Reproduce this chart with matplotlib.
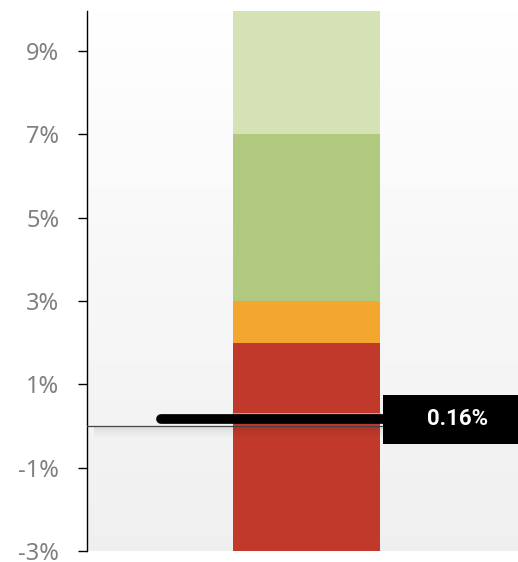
import numpy as np
import matplotlib
matplotlib.use("Agg")
import matplotlib.pyplot as plt
from matplotlib.patches import Rectangle

# Stacked band boundaries (percent) and their colours
band_edges = [-3.0, 0.3, 2.0, 3.0, 7.0, 10.0]
band_colors = ["#C0392B", "#C0392B", "#F3A72F", "#B0C97E", "#D4E2B5"]
current_value = 0.16
tick_values = [-3, -1, 1, 3, 5, 7, 9]
tick_labels = ["-3%", "-1%", "1%", "3%", "5%", "7%", "9%"]

W, H = 518, 562
fig = plt.figure(figsize=(W / 100, H / 100), dpi=100)
fig.patch.set_facecolor("white")
ax = fig.add_axes([87 / W, 11 / H, (W - 87) / W, 540 / H])

xmin, xmax = -1.493, 1.439
ymin, ymax = -3.0, 9.96
ax.set_xlim(xmin, xmax)
ax.set_ylim(ymin, ymax)

# background gradient: white at top to light grey at bottom
grad = np.linspace(0.94, 1.0, 256).reshape(-1, 1)
ax.imshow(np.dstack([grad, grad, grad]), extent=[xmin, xmax, ymin, ymax],
          origin="lower", aspect="auto", zorder=0)

# stacked bands
for lo, hi, c in zip(band_edges[:-1], band_edges[1:], band_colors):
    ax.bar(0, hi - lo, bottom=lo, width=1.0, color=c, linewidth=0, zorder=2)
# faint separator between the two red bands
ax.plot([-0.5, 0.5], [band_edges[1], band_edges[1]], color="#E8A49A",
        linewidth=1.2, zorder=3)

# zero line with soft shadow underneath
shadow = np.zeros((64, 1, 4))
shadow[..., 3] = np.linspace(0.0, 0.10, 64).reshape(-1, 1)
ax.imshow(shadow, extent=[xmin + 0.05, xmax, -0.28, 0.0], origin="lower",
          aspect="auto", zorder=3)
ax.axhline(0, color="#444444", linewidth=0.9, zorder=4)

# current value marker
ax.plot([-0.99, 0.55], [current_value, current_value], color="black",
        linewidth=7, solid_capstyle="round", zorder=5)
ax.add_patch(Rectangle((0.521, current_value - 0.59), 1.2, 1.18,
                       facecolor="black", edgecolor="none", zorder=6,
                       clip_on=False))
ax.text(1.031, current_value, f"{current_value:.2f}%", color="white",
        fontsize=16, fontweight="bold", family="Roboto",
        ha="center", va="center", zorder=7, clip_on=False)

# axes styling
for s in ["top", "right", "bottom"]:
    ax.spines[s].set_visible(False)
ax.spines["left"].set_color("black")
ax.spines["left"].set_linewidth(1.0)
ax.set_xticks([])
ax.set_yticks(tick_values)
ax.set_yticklabels(tick_labels, family="Noto Sans", fontsize=17, color="#808080")
ax.tick_params(axis="y", length=6.5, width=1, color="black", pad=13.5)

fig.savefig("out.png", dpi=100)
